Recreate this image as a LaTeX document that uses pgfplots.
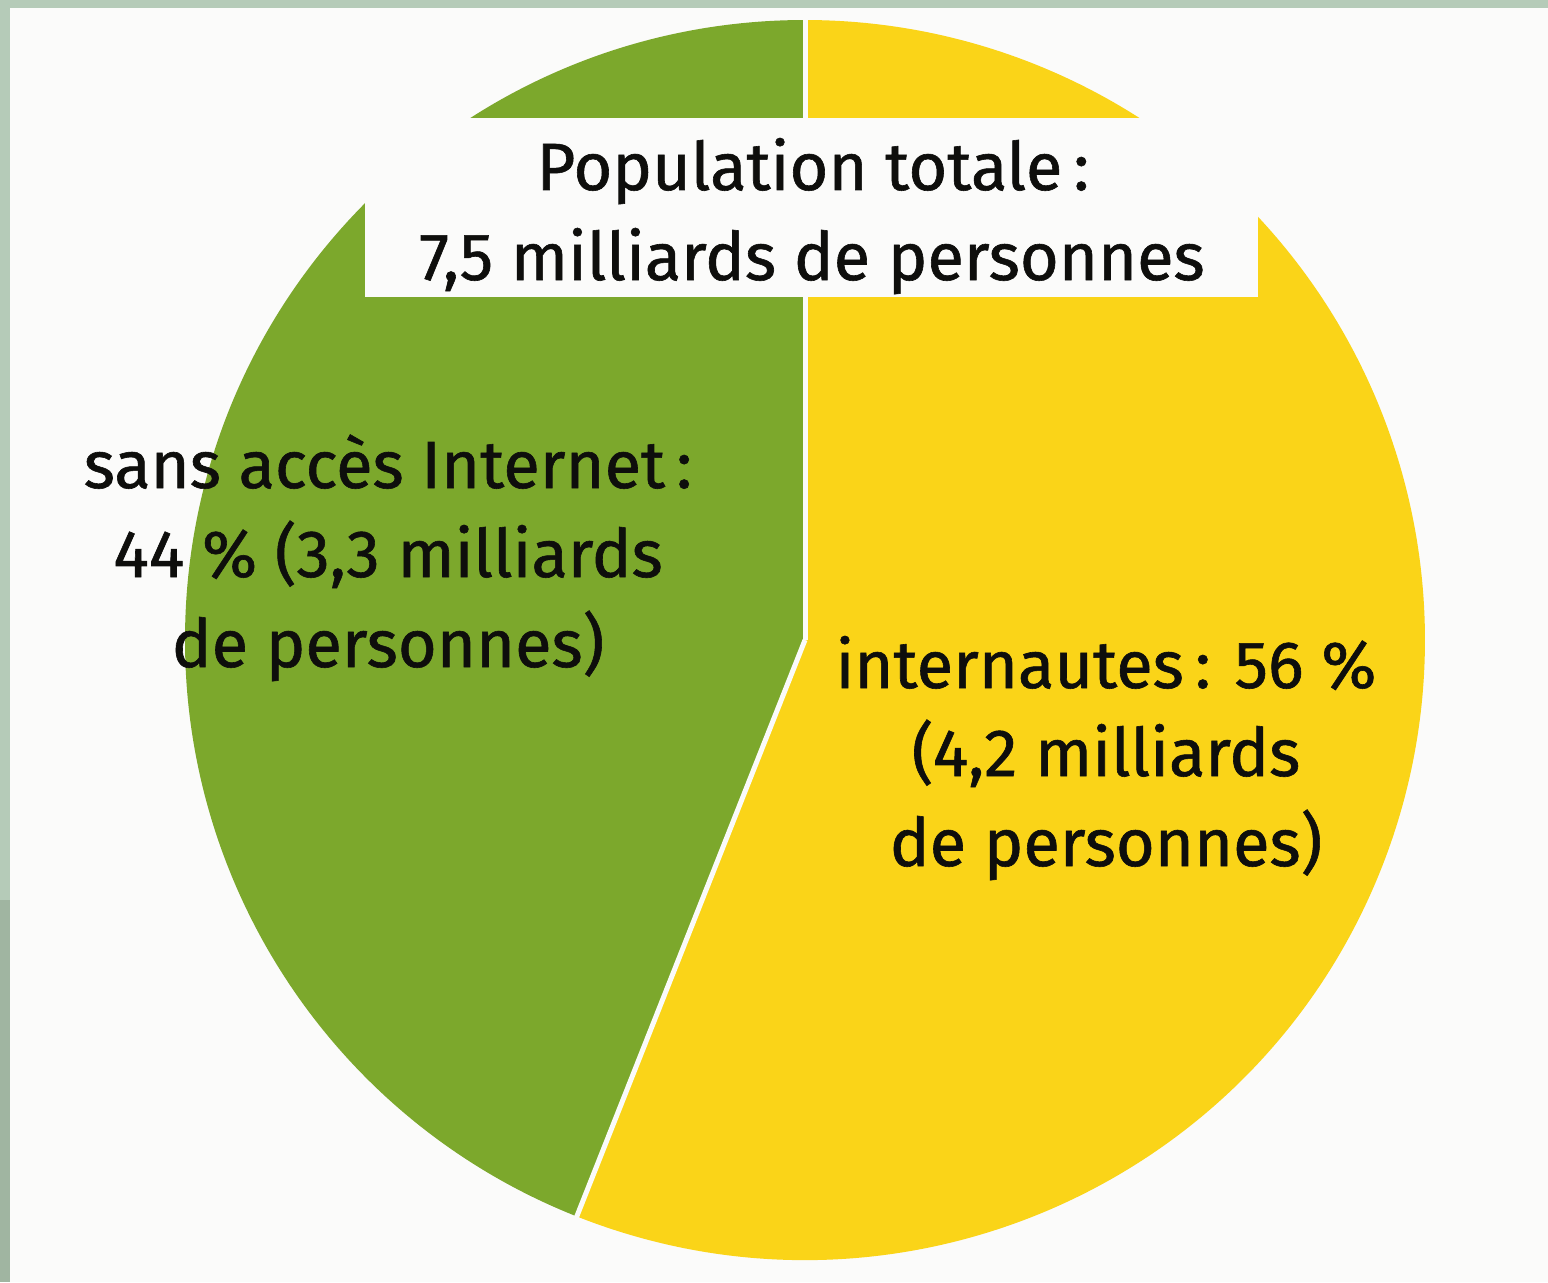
\documentclass[border=0pt]{standalone}
\usepackage{pgfplots}
\pgfplotsset{compat=1.18}
\usepackage{fontspec}
\setmainfont{Fira Sans}
\newfontfamily\lblfont{Fira Sans}[FakeBold=0.9]
\definecolor{pgreen}{RGB}{124,168,44}
\definecolor{pyellow}{RGB}{250,212,24}
\definecolor{frameA}{RGB}{181,203,184}
\definecolor{frameB}{RGB}{160,181,161}
\definecolor{page}{RGB}{251,251,250}
\definecolor{txt}{RGB}{14,14,12}
% shares (percent)
\def\vSans{44}
\def\vNet{56}
\begin{document}
\begin{tikzpicture}
\pgfmathsetmacro\aA{90}
\pgfmathsetmacro\aB{90+3.6*\vSans}
\pgfmathsetmacro\aC{\aB+3.6*\vNet}
\begin{axis}[hide axis, scale only axis, x=0.1mm, y=0.1mm,
  xmin=0, xmax=1548, ymin=0, ymax=1282, clip=false]
\fill[page] (axis cs:0,0) rectangle (axis cs:1548,1282);
\fill[frameA] (axis cs:0,1274) rectangle (axis cs:1548,1282);
\fill[frameA] (axis cs:0,382) rectangle (axis cs:10,1282);
\fill[frameB] (axis cs:0,0) rectangle (axis cs:10,382);
% pie sectors
\fill[pgreen, overlay] (axis cs:805,642) -- ++(\aA:62mm) arc[start angle=\aA, end angle=\aB, radius=62mm] -- cycle;
\fill[pyellow, overlay] (axis cs:805,642) -- ++(\aB:62mm) arc[start angle=\aB, end angle=\aC, radius=62mm] -- cycle;
\draw[page, line width=0.5mm, overlay] (axis cs:805,642) -- ++(\aA:62.5mm);
\draw[page, line width=0.5mm, overlay] (axis cs:805,642) -- ++(\aB:62.5mm);
% title box
\fill[page] (axis cs:365,985) rectangle (axis cs:1258,1164);
\tikzset{lbl/.style={anchor=base, text=txt, inner sep=0pt, font=\lblfont\fontsize{19}{22}\selectfont}}
\node[lbl] at (axis cs:813,1092) {Population totale\,:};
\node[lbl] at (axis cs:812,1002) {7,5 milliards de personnes};
\node[lbl] at (axis cs:388,794) {sans accès Internet\,:};
\node[lbl] at (axis cs:388,705) {44 \% (3,3 milliards};
\node[lbl] at (axis cs:388,615) {de personnes)};
\node[lbl] at (axis cs:1106,594) {internautes\,: 56 \%};
\node[lbl] at (axis cs:1106,506) {(4,2 milliards};
\node[lbl] at (axis cs:1106,416) {de personnes)};
\end{axis}
\end{tikzpicture}
\end{document}
